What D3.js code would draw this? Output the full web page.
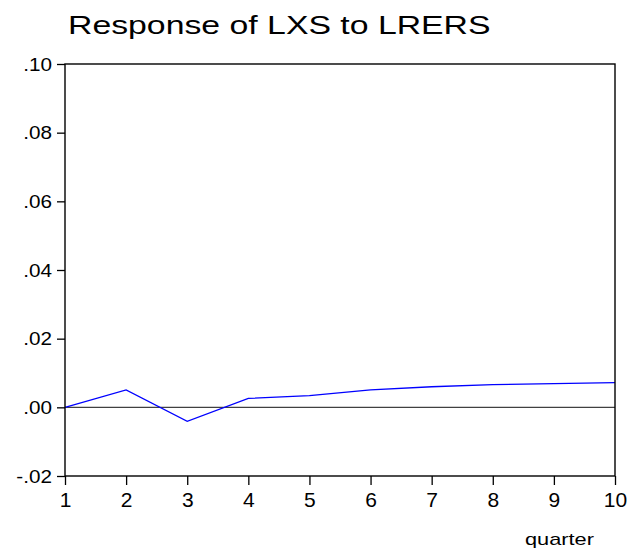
<!DOCTYPE html>
<html>
<head>
<meta charset="utf-8">
<script src="https://cdn.jsdelivr.net/npm/d3@7"></script>
<style>
  body { margin: 0; background: #fff; }
  text { font-family: "Liberation Sans", Arial, sans-serif; fill: #000; }
</style>
</head>
<body>
<div id="chart-area"></div>
<script>
// Data
const quarters = [1, 2, 3, 4, 5, 6, 7, 8, 9, 10];
const response = [0.0, 0.0051, -0.0041, 0.0026, 0.0034, 0.0051, 0.0060, 0.0066, 0.0069, 0.0072];
const yTicks = [-0.02, 0.00, 0.02, 0.04, 0.06, 0.08, 0.10];
const yTickLabels = ["-.02", ".00", ".02", ".04", ".06", ".08", ".10"];
const titleText = "Response of LXS to LRERS";
const xTitleText = "quarter";

const margin = { left: 65, right: 16, top: 64, bottom: 81 },
    W = 631, H = 557,
    width = W - margin.left - margin.right,
    height = H - margin.top - margin.bottom;

const svg = d3.select("#chart-area").append("svg")
    .attr("width", W)
    .attr("height", H);

const g = svg.append("g")
    .attr("transform", "translate(" + margin.left + "," + margin.top + ")");

// Scales
const x = d3.scaleLinear().domain([1, 10]).range([0, width]);
const y = d3.scaleLinear().domain([-0.02, 0.10]).range([height, 0]);

// Zero line
g.append("line")
    .attr("x1", 0).attr("x2", width)
    .attr("y1", y(0)).attr("y2", y(0))
    .attr("stroke", "#404040")
    .attr("stroke-width", 1.2);

// Response line
const line = d3.line()
    .x((d, i) => x(quarters[i]))
    .y(d => y(d));

g.append("path")
    .datum(response)
    .attr("fill", "none")
    .attr("stroke", "#0000ff")
    .attr("stroke-width", 1.3)
    .attr("d", line);

// Frame
g.append("rect")
    .attr("width", width)
    .attr("height", height)
    .attr("fill", "none")
    .attr("stroke", "#000")
    .attr("stroke-width", 1.4);

// Y axis
const yAxis = g.append("g")
    .call(d3.axisLeft(y).tickValues(yTicks).tickSize(8).tickFormat(""));
yAxis.select(".domain").remove();
yAxis.selectAll("line").attr("stroke", "#000").attr("stroke-width", 1.3);

g.selectAll(".ylab")
    .data(yTicks)
    .enter().append("text")
    .attr("class", "ylab")
    .attr("transform", d => "translate(-13," + (y(d) + 6.5) + ") scale(1.15,1)")
    .attr("text-anchor", "end")
    .style("font-size", "18px")
    .text((d, i) => yTickLabels[i]);

// X axis
const xAxis = g.append("g")
    .attr("transform", "translate(0," + height + ")")
    .call(d3.axisBottom(x).tickValues(quarters).tickSize(9).tickFormat(d3.format("d")));
xAxis.select(".domain").remove();
xAxis.selectAll("line").attr("stroke", "#000").attr("stroke-width", 1.3);
xAxis.selectAll("text")
    .attr("y", 16)
    .attr("dy", "0.71em")
    .style("font-size", "21px")
    .style("font-family", "Liberation Sans, Arial, sans-serif")
    .attr("fill", "#000");

// Title
svg.append("text")
    .attr("transform", "translate(68,33.5) scale(1.3,1)")
    .style("font-size", "26px")
    .text(titleText);

// X axis title
svg.append("text")
    .attr("transform", "translate(525,545) scale(1.28,1)")
    .style("font-size", "17px")
    .text(xTitleText);
</script>
</body>
</html>
